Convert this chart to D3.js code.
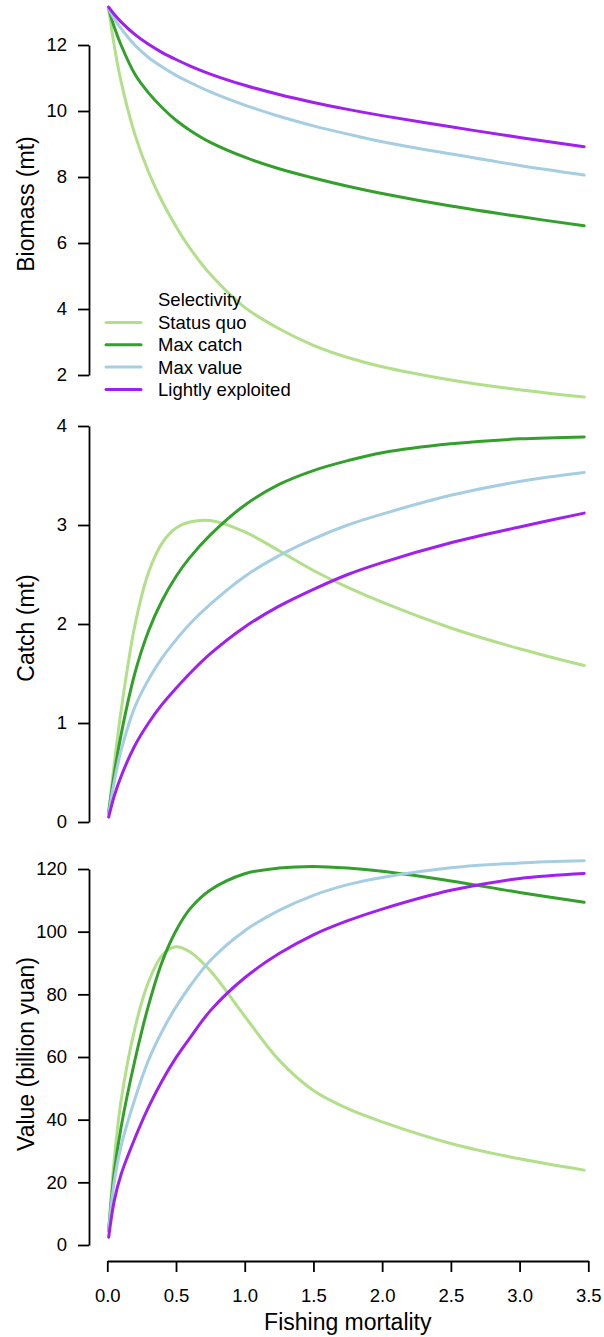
<!DOCTYPE html>
<html>
<head>
<meta charset="utf-8">
<script src="https://cdn.jsdelivr.net/npm/d3@7"></script>
<style>
  body { margin: 0; background: #fff; }
  svg { font-family: "Liberation Sans", Arial, sans-serif; }
  .axis path, .axis line { stroke: #000; stroke-width: 1.8; }
  .axis text { font-size: 18.5px; fill: #000; }
  .title { font-size: 23px; fill: #000; }
  .legend text { font-size: 18.5px; fill: #000; }
</style>
</head>
<body>
<svg id="chart" width="604" height="1337"></svg>
<script>
// Fishing mortality grid (x values)
const fishingMortality = [0.01, 0.05, 0.1, 0.2, 0.3, 0.4, 0.5, 0.6, 0.75, 1.0, 1.25, 1.5, 1.75, 2.0, 2.5, 3.0, 3.47];

const selectivityNames = ['Status quo', 'Max catch', 'Max value', 'Lightly exploited'];
const selectivityColors = ['#b2df8a', '#33a02c', '#a6cee3', '#a020f0'];

// Biomass (mt)
const biomassStatusQuo = [13.1, 12.0, 10.9, 9.3, 8.15, 7.25, 6.5, 5.85, 5.05, 4.05, 3.4, 2.9, 2.53, 2.25, 1.85, 1.55, 1.33];
const biomassMaxCatch  = [13.1, 12.55, 12.0, 11.12, 10.55, 10.1, 9.72, 9.42, 9.05, 8.6, 8.25, 7.97, 7.72, 7.5, 7.12, 6.8, 6.52];
const biomassMaxValue  = [13.1, 12.8, 12.5, 12.0, 11.62, 11.33, 11.08, 10.87, 10.58, 10.18, 9.84, 9.55, 9.3, 9.07, 8.7, 8.35, 8.06];
const biomassLightly   = [13.15, 12.93, 12.7, 12.32, 12.02, 11.77, 11.56, 11.37, 11.12, 10.78, 10.5, 10.26, 10.05, 9.86, 9.52, 9.2, 8.92];

// Catch (mt)
const catchStatusQuo = [0.1, 0.58, 1.12, 1.98, 2.52, 2.82, 2.97, 3.03, 3.045, 2.93, 2.74, 2.54, 2.37, 2.22, 1.96, 1.75, 1.58];
const catchMaxCatch  = [0.1, 0.48, 0.88, 1.5, 1.93, 2.24, 2.48, 2.67, 2.9, 3.2, 3.41, 3.55, 3.65, 3.73, 3.82, 3.87, 3.89];
const catchMaxValue  = [0.08, 0.4, 0.72, 1.16, 1.44, 1.66, 1.84, 2.0, 2.2, 2.48, 2.69, 2.86, 3.0, 3.11, 3.3, 3.44, 3.53];
const catchLightly   = [0.05, 0.26, 0.46, 0.77, 1.0, 1.19, 1.35, 1.5, 1.7, 1.97, 2.18, 2.35, 2.5, 2.62, 2.82, 2.98, 3.12];

// Value (billion yuan)
const valueStatusQuo = [4.8, 27, 46, 69, 84, 92.5, 95.2, 93.6, 87.5, 73, 59, 49.3, 43.5, 39.3, 32.4, 27.5, 23.9];
const valueMaxCatch  = [4.5, 23, 37.5, 58.8, 76.5, 90.5, 100.3, 107.2, 113.3, 118.5, 120.3, 120.8, 120.3, 119.3, 116.2, 112.5, 109.4];
const valueMaxValue  = [4.5, 20, 31.5, 46.5, 59, 68.3, 76, 82.5, 90.8, 100.3, 106.8, 111.6, 115.0, 117.3, 120.4, 121.9, 122.6];
const valueLightly   = [2.5, 14, 22.5, 34, 44, 52.5, 59.8, 66, 74.8, 85.3, 93, 99, 103.5, 107.2, 113.2, 117, 118.6];

const xTicks = [0, 0.5, 1, 1.5, 2, 2.5, 3, 3.5];
const biomassTicks = [2, 4, 6, 8, 10, 12];
const catchTicks = [0, 1, 2, 3, 4];
const valueTicks = [0, 20, 40, 60, 80, 100, 120];

const svg = d3.select('#chart');

const x = d3.scaleLinear().domain([0, 3.5]).range([107.3, 588.3]);
const axisX = 89;

const panels = [
  { title: 'Biomass (mt)', series: [biomassStatusQuo, biomassMaxCatch, biomassMaxValue, biomassLightly],
    ticks: biomassTicks, domain: [2, 12], range: [375, 45], titleY: 204 },
  { title: 'Catch (mt)', series: [catchStatusQuo, catchMaxCatch, catchMaxValue, catchLightly],
    ticks: catchTicks, domain: [0, 4], range: [822, 426], titleY: 628 },
  { title: 'Value (billion yuan)', series: [valueStatusQuo, valueMaxCatch, valueMaxValue, valueLightly],
    ticks: valueTicks, domain: [0, 120], range: [1245, 869], titleY: 1054 }
];

panels.forEach(p => {
  const y = d3.scaleLinear().domain(p.domain).range(p.range);

  // y axis
  svg.append('g')
    .attr('class', 'axis')
    .attr('transform', `translate(${axisX},0)`)
    .call(d3.axisLeft(y).tickValues(p.ticks).tickSize(11).tickSizeOuter(0).tickPadding(11).tickFormat(d3.format('d')));

  svg.append('text')
    .attr('class', 'title')
    .attr('text-anchor', 'middle')
    .attr('transform', `translate(34,${p.titleY}) rotate(-90)`)
    .text(p.title);

  const line = d3.line()
    .x((d, i) => x(fishingMortality[i]))
    .y(d => y(d))
    .curve(d3.curveCatmullRom.alpha(0.5));

  svg.append('g')
    .selectAll('path')
    .data(p.series)
    .enter()
    .append('path')
    .attr('d', d => line(d))
    .attr('fill', 'none')
    .attr('stroke', (d, i) => selectivityColors[i])
    .attr('stroke-width', 3)
    .attr('stroke-linecap', 'round');
});

// x axis
svg.append('g')
  .attr('class', 'axis')
  .attr('transform', 'translate(0,1261)')
  .call(d3.axisBottom(x).tickValues(xTicks).tickSize(11).tickSizeOuter(0).tickPadding(17).tickFormat(d3.format('.1f')));

svg.append('text')
  .attr('class', 'title')
  .attr('text-anchor', 'middle')
  .attr('x', 347.8)
  .attr('y', 1330)
  .text('Fishing mortality');

// legend
const legend = svg.append('g').attr('class', 'legend');
legend.append('text')
  .attr('x', 158)
  .attr('y', 300)
  .attr('dy', '0.35em')
  .text('Selectivity');

const items = legend.selectAll('.item')
  .data(selectivityNames)
  .enter()
  .append('g')
  .attr('class', 'item')
  .attr('transform', (d, i) => `translate(0,${322.5 + i * 22.3})`);

items.append('line')
  .attr('x1', 106).attr('x2', 141)
  .attr('stroke', (d, i) => selectivityColors[i])
  .attr('stroke-width', 3)
  .attr('stroke-linecap', 'round');

items.append('text')
  .attr('x', 158)
  .attr('dy', '0.35em')
  .text(d => d);
</script>
</body>
</html>
